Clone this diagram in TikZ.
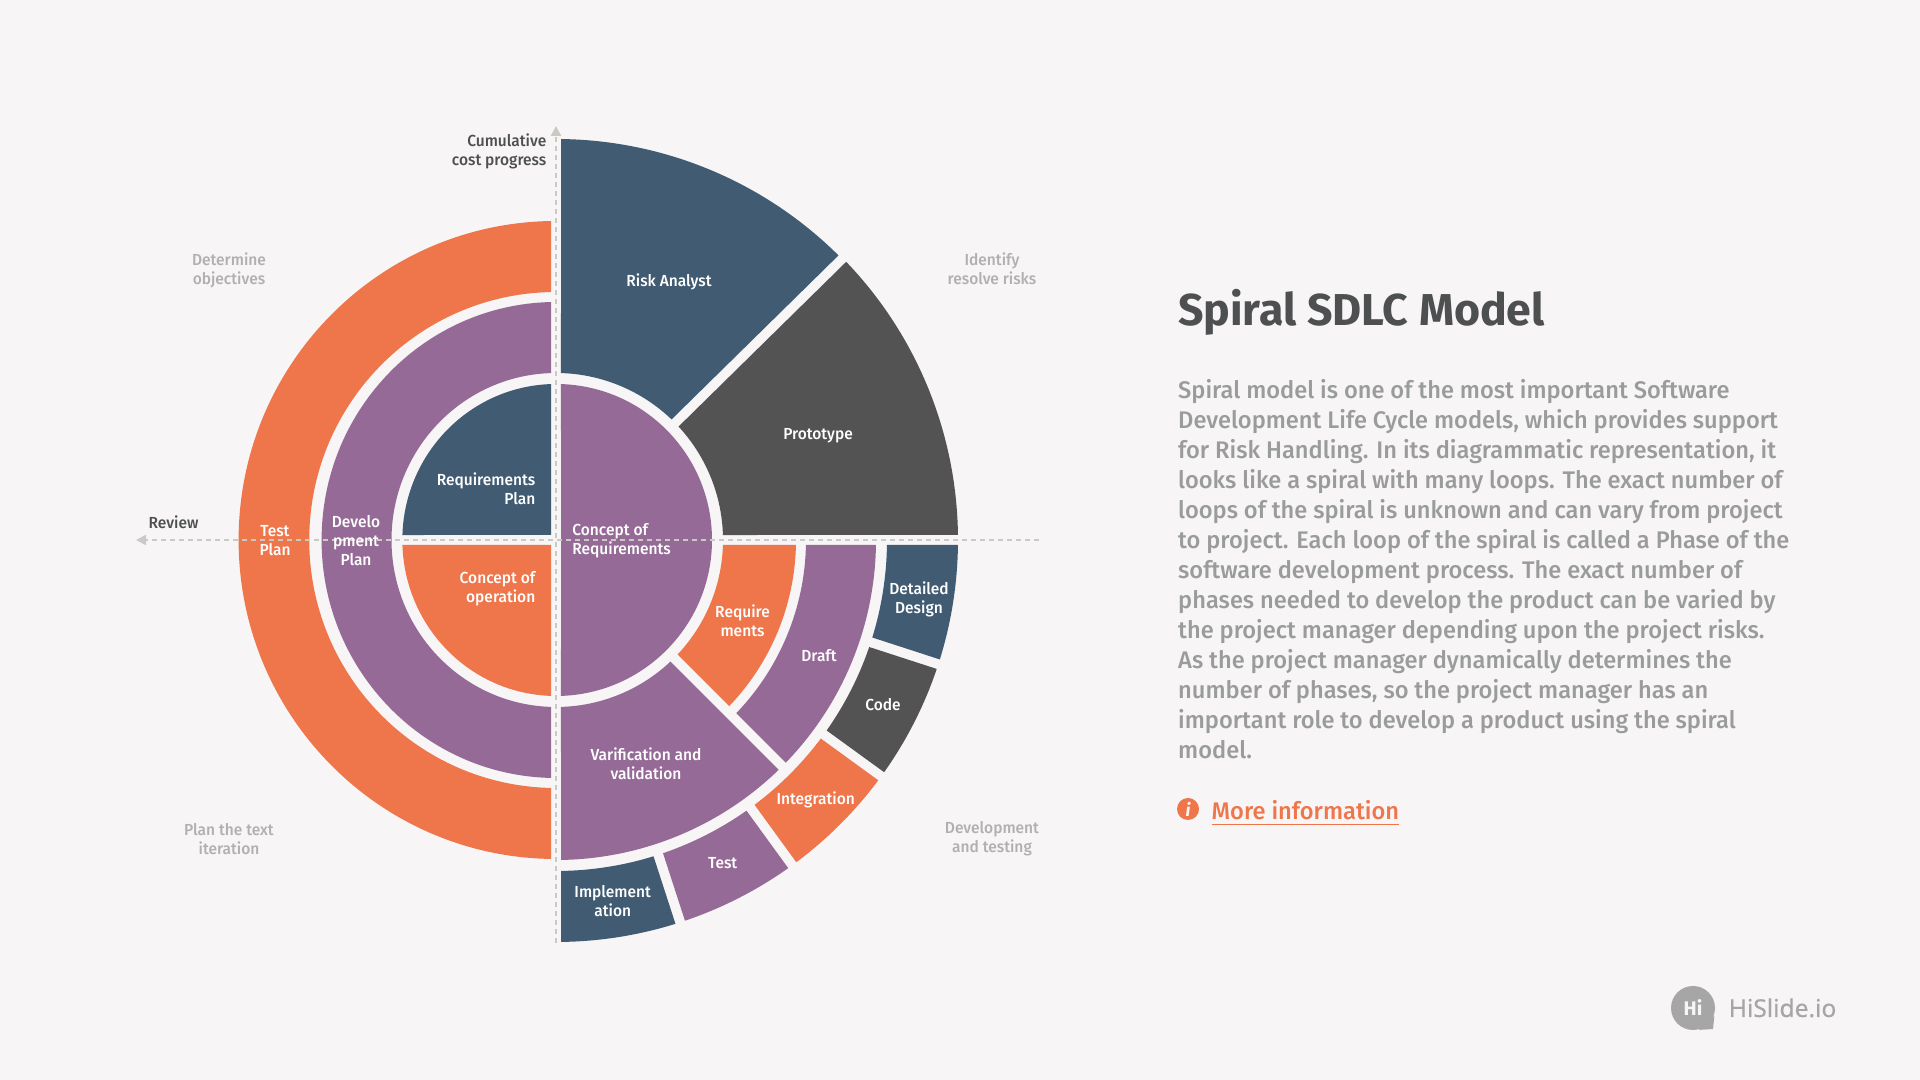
\documentclass[tikz,border=0pt]{standalone}
\usepackage{fontspec}
\usepackage{xcolor}
\usepackage{tikz}
\usetikzlibrary{arrows.meta,positioning,calc}
\setmainfont{Fira Sans}[FakeStretch=0.97]
\newfontfamily\medfont{Fira Sans Medium}[FakeStretch=0.97]
\newfontfamily\bodyfont{Fira Sans Medium}[FakeStretch=0.985]
\newfontfamily\titlefont{Fira Sans}[FakeStretch=1.0]
\newfontfamily\logofont{Noto Sans}[FakeBold=0.3]
\definecolor{paper}{RGB}{247,245,246}
\definecolor{navy}{RGB}{64,91,114}
\definecolor{slate}{RGB}{83,83,83}
\definecolor{coral}{RGB}{239,118,75}
\definecolor{plum}{RGB}{150,106,150}
\definecolor{axis}{RGB}{201,202,196}
\definecolor{inktext}{RGB}{77,79,80}
\definecolor{softtext}{RGB}{176,176,176}
\definecolor{bodytext}{RGB}{154,156,156}
\definecolor{logogrey}{RGB}{166,166,166}
%% ring piece with a gap of constant width along its two cuts
\newcommand{\ringsec}[5]{%
  \pgfmathsetmacro{\secin}{asin(0.05/#2)}%
  \pgfmathsetmacro{\secout}{asin(0.05/#3)}%
  \fill[#1] ({#4+\secin}:#2) arc[start angle=#4+\secin,end angle=#5-\secin,radius=#2]
    -- ({#5-\secout}:#3) arc[start angle=#5-\secout,end angle=#4+\secout,radius=#3] -- cycle;}

\begin{document}
\begin{tikzpicture}[
  seclbl/.style={text=white,align=center,inner sep=0pt,font=\fontsize{4.55}{5.4}\selectfont\medfont},
  sidelbl/.style={text=softtext,align=center,inner sep=0pt,font=\fontsize{4.55}{5.4}\selectfont\medfont},
  axislbl/.style={text=inktext,inner sep=0pt,font=\fontsize{4.55}{5.4}\selectfont\medfont},
  arr/.style={axis,line width=0.02cm,dash pattern=on 0.05cm off 0.04cm,
              -{Triangle[length=0.1cm,width=0.1cm]}}
]
\useasboundingbox (0,0) rectangle (19.2,10.8);
\fill[paper] (0,0) rectangle (19.2,10.8);

\begin{scope}[shift={(5.56,5.40)}]
%% ── Left half: quadrants and two half rings ─────────────────────────────────
\ringsec{navy,xscale=0.985}{0.0708}{1.56}{90}{180}
\ringsec{coral,xscale=0.985}{0.0708}{1.56}{180}{270}
\ringsec{plum,xscale=0.985}{1.67}{2.38}{90}{270}
\ringsec{coral,xscale=0.995}{2.48}{3.19}{90}{270}
%% ── Right half: centre, then the wide sectors ───────────────────────────────
\ringsec{plum}{0.0501}{1.56}{-90}{90}
\ringsec{navy}{1.67}{4.01}{44.5}{90}
\ringsec{slate}{1.67}{4.02}{0}{44.5}
\ringsec{coral}{1.67}{2.40}{-45}{0}
\ringsec{plum}{2.50}{3.20}{-45}{0}
\ringsec{plum}{1.67}{3.20}{-90}{-45}
%% ── Outer ring, five pieces ─────────────────────────────────────────────────
\ringsec{navy}{3.31}{4.02}{-18}{0}
\ringsec{slate}{3.31}{4.02}{-36}{-18}
\ringsec{coral}{3.31}{4.02}{-54}{-36}
\ringsec{plum}{3.31}{4.02}{-72}{-54}
\ringsec{navy}{3.31}{4.02}{-90}{-72}
\end{scope}

%% ── Axes ────────────────────────────────────────────────────────────────────
\coordinate (axbot) at (5.56,1.37);
\coordinate (axtop) at (5.56,9.54);
\coordinate (axrgt) at (10.39,5.40);
\coordinate (axlft) at (1.36,5.40);
\draw[arr] (axbot) -- (axtop);
\draw[arr] (axrgt) -- (axlft);

\node[axislbl,align=right,anchor=east] (cost) at (5.47,9.283) {Cumulative\\cost progress};
\node[axislbl,anchor=west] (review) at (1.48,5.575) {Review};

%% ── Corner captions ─────────────────────────────────────────────────────────
\node[sidelbl] (objectives) at (2.29,8.095) {Determine\\objectives};
\node[sidelbl] (risks)      at (9.92,8.115) {Identify\\resolve risks};
\node[sidelbl] (iteration)  at (2.29,2.413) {Plan the text\\iteration};
\node[sidelbl] (testing)    at (9.92,2.413) {Development\\and testing};

%% ── Left half labels ────────────────────────────────────────────────────────
\node[seclbl] (testplan) at (2.75,5.39) {Test\\Plan};
\node[seclbl] (devplan)  at (3.56,5.39) {Develo\\pment\\Plan};
\node[seclbl,align=right,anchor=east] (reqplan) at (5.36,5.915) {Requirements\\Plan};
\node[seclbl,align=right,anchor=east] (conop)   at (5.36,4.913) {Concept of\\operation};

%% ── Right half labels ───────────────────────────────────────────────────────
\node[seclbl,align=left,anchor=west] (conreq) at (5.717,5.388) {Concept of\\Requirements};
\node[seclbl] (riskan)  at (6.69,7.978) {Risk Analyst};
\node[seclbl] (proto)   at (8.18,6.445) {Prototype};
\node[seclbl] (req)     at (7.425,4.597) {Require\\ments};
\node[seclbl] (draft)   at (8.19,4.24)  {Draft};
\node[seclbl] (valid)   at (6.46,3.167) {Varification and\\validation};
\node[seclbl] (design)  at (9.19,4.808) {Detailed\\Design};
\node[seclbl] (code)    at (8.83,3.75)  {Code};
\node[seclbl] (integ)   at (8.157,2.798) {Integration};
\node[seclbl] (test)    at (7.227,2.17) {Test};
\node[seclbl] (impl)    at (6.127,1.79) {Implement\\ation};

%% ── Text column ─────────────────────────────────────────────────────────────
\node[anchor=base west,inner sep=0pt,text=inktext,font=\fontsize{12.7}{15}\selectfont\titlefont\bfseries] (title)
  at (11.775,7.54) {Spiral SDLC Model};
\node[anchor=north west,inner sep=0pt,align=left,text=bodytext,font=\fontsize{6.83}{8.535}\selectfont\bodyfont] (body)
  at (11.775,7.015) {Spiral model is one of the most important Software\\
  Development Life Cycle models, which provides support\\
  for Risk Handling. In its diagrammatic representation, it\\
  looks like a spiral with many loops. The exact number of\\
  loops of the spiral is unknown and can vary from project\\
  to project. Each loop of the spiral is called a Phase of the\\
  software development process. The exact number of\\
  phases needed to develop the product can be varied by\\
  the project manager depending upon the project risks.\\
  As the project manager dynamically determines the\\
  number of phases, so the project manager has an\\
  important role to develop a product using the spiral\\
  model.};
\node[circle,fill=coral,inner sep=0pt,minimum size=0.22cm,text=paper,font=\fontsize{5}{5}\selectfont\titlefont\bfseries\itshape] (infoicon)
  at (11.88,2.71) {i};
\node[anchor=base west,inner sep=0pt,text=coral,font=\fontsize{6.83}{8.535}\selectfont\bodyfont] (more)
  at (12.11,2.608) {\underline{More information}};

%% ── Logo ────────────────────────────────────────────────────────────────────
\node[circle,fill=logogrey,inner sep=0pt,minimum size=0.44cm,text=paper,font=\fontsize{5.6}{5.6}\selectfont\titlefont\bfseries] (hi)
  at (16.93,0.72) {Hi};
\fill[logogrey] (hi.-20) -- (17.13,0.51) -- (hi.-75) -- cycle;
\node[anchor=base west,inner sep=0pt,text=logogrey,font=\fontsize{7.0}{8}\selectfont\logofont] (brand)
  at (17.28,0.63) {HiSlide.io};
\end{tikzpicture}
\end{document}
